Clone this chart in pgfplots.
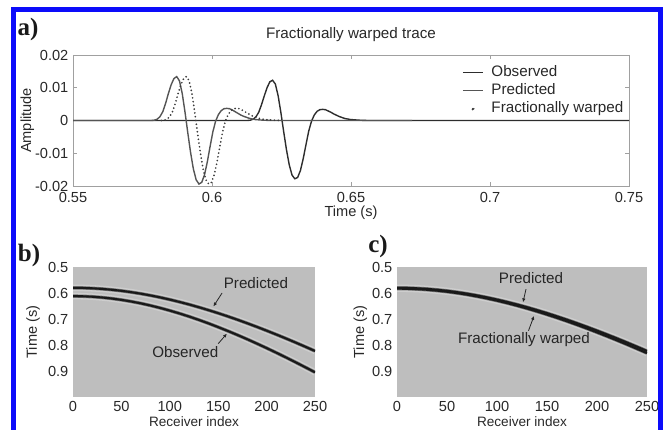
\documentclass[border=0pt]{standalone}
\usepackage{fontspec}
\setmainfont{Liberation Sans}
\newfontfamily\serifbold{Liberation Serif}
\usepackage{pgfplots}
\usepackage{pgfplotstable}
\pgfplotsset{compat=1.18}
\usetikzlibrary{arrows.meta}
\definecolor{bgray}{RGB}{190,190,190}
\definecolor{halo}{RGB}{206,206,206}
\definecolor{bblue}{RGB}{12,12,250}
\definecolor{framegray}{RGB}{160,160,160}
\definecolor{txt}{RGB}{40,40,40}
\definecolor{obscol}{RGB}{45,45,45}
\definecolor{predcol}{RGB}{85,85,85}
\definecolor{warpcol}{RGB}{60,60,60}
\newcommand{\fs}{\fontsize{15.2}{17}\selectfont}
\newcommand{\ft}{\fontsize{14.6}{16.5}\selectfont}
\newcommand{\fl}{\fontsize{13.6}{15}\selectfont}

\pgfplotstableread{
x t
0 0.5800
10 0.5805
20 0.5819
30 0.5842
40 0.5875
50 0.5916
60 0.5967
70 0.6026
80 0.6094
90 0.6169
100 0.6253
110 0.6344
120 0.6442
130 0.6547
140 0.6659
150 0.6776
160 0.6900
170 0.7029
180 0.7164
190 0.7303
200 0.7448
210 0.7596
220 0.7749
230 0.7906
240 0.8067
250 0.8231
}\predev

\pgfplotstableread{
x t
0 0.6120
10 0.6126
20 0.6143
30 0.6172
40 0.6212
50 0.6264
60 0.6326
70 0.6398
80 0.6481
90 0.6574
100 0.6676
110 0.6787
120 0.6906
130 0.7034
140 0.7169
150 0.7312
160 0.7461
170 0.7617
180 0.7778
190 0.7946
200 0.8118
210 0.8296
220 0.8478
230 0.8665
240 0.8856
250 0.9050
}\obsev

\pgfplotstableread{
x t
0 0.5832
10 0.5837
20 0.5851
30 0.5875
40 0.5909
50 0.5951
60 0.6003
70 0.6063
80 0.6133
90 0.6210
100 0.6295
110 0.6388
120 0.6488
130 0.6596
140 0.6710
150 0.6830
160 0.6956
170 0.7088
180 0.7225
190 0.7367
200 0.7515
210 0.7666
220 0.7822
230 0.7982
240 0.8146
250 0.8313
}\warpev

\pgfplotsset{
  mystyle/.style={
    scale only axis, anchor=south west,
    scaled ticks=false,
    axis line style={framegray, line width=0.8pt},
    tick style={framegray, line width=0.8pt},
    major tick length=4pt,
    tick align=inside,
    ticklabel style={font=\ft, text=txt},
    label style={font=\ft, text=txt},
    yticklabel style={anchor=east, xshift=-4.5pt, inner sep=0pt},
  },
  imgstyle/.style={
    mystyle,
    height=130pt,
    xmin=0, xmax=250, ymin=0.5, ymax=1.0, y dir=reverse,
    xtick={0,50,100,150,200,250}, xticklabels={0,50,100,150,200,250},
    ytick={0.5,0.6,0.7,0.8,0.9}, yticklabels={0.5,0.6,0.7,0.8,0.9},
    xticklabel style={anchor=base, yshift=-14.5pt, inner sep=0pt},
    axis background/.style={fill=bgray},
    axis line style={draw=none},
    major tick length=0pt,
    xlabel={Receiver index},
    xlabel style={font=\fl, at={(axis description cs:0.5,0)}, anchor=base, yshift=-29.5pt, inner sep=0pt},
    ylabel={Time (s)},
  },
  halo/.style={no marks, color=halo, line width=6.5pt},
  blur/.style={no marks, color=black!55, line width=3.4pt},
  core/.style={no marks, color=black!90, line width=2.1pt},
}

\begin{document}
\begin{tikzpicture}
\path[use as bounding box] (0pt,0pt) rectangle (668pt,430pt);

% ---------- panel a ----------
\begin{axis}[mystyle, at={(73pt,244pt)}, width=556pt, height=131pt,
  xmin=0.55, xmax=0.75, ymin=-0.02, ymax=0.02,
  xtick={0.55,0.6,0.65,0.7,0.75}, xticklabels={0.55,0.6,0.65,0.7,0.75},
  xticklabel style={anchor=base, yshift=-16.5pt, inner sep=0pt},
  ytick={-0.02,-0.01,0,0.01,0.02}, yticklabels={-0.02,-0.01,0,0.01,0.02},
  title={Fractionally warped trace},
  title style={font=\fs, text=txt, at={(axis description cs:0.5,1)}, anchor=base, yshift=10pt},
  xlabel={Time (s)},
  xlabel style={at={(axis description cs:0.5,0)}, anchor=base, yshift=-31pt},
  ylabel={Amplitude},
  ylabel style={at={(axis description cs:-0.0755,0.5)}, anchor=base},
  legend style={draw=none, fill=none, at={(axis description cs:0.694,0.948)}, anchor=north west,
    font=\fs, text=txt, legend cell align=left, row sep=0.5pt,
    nodes={inner sep=2pt, text height=10.5pt, text depth=3pt},
    /tikz/every odd column/.append style={column sep=6pt}},
  legend image code/.code={\draw[#1] (0pt,0pt) -- (20pt,0pt);},
]
\addplot[no marks, color=obscol, line width=1.4pt] coordinates {
(0.5500,0) (0.6128,0) (0.6138,0.0001) (0.6148,0.0004) (0.6158,0.0011) (0.6168,0.0025)
(0.6178,0.0048) (0.6188,0.0075) (0.6198,0.0100) (0.6208,0.0118) (0.6218,0.0123)
(0.6228,0.0111) (0.6238,0.0075) (0.6248,0.0023) (0.6258,-0.0035) (0.6268,-0.0090)
(0.6278,-0.0136) (0.6288,-0.0167) (0.6298,-0.0178) (0.6308,-0.0174) (0.6318,-0.0153)
(0.6328,-0.0117) (0.6338,-0.0074) (0.6348,-0.0032) (0.6358,-0.0002) (0.6368,0.0017)
(0.6378,0.0028) (0.6388,0.0033) (0.6398,0.0034) (0.6408,0.0033) (0.6418,0.0029)
(0.6428,0.0025) (0.6438,0.0020) (0.6448,0.0016) (0.6458,0.0012) (0.6478,0.0006)
(0.6498,0.0003) (0.6528,0.0001) (0.6558,0) (0.7500,0)
};
\addlegendentry{Observed}
\addplot[no marks, color=predcol, line width=1.4pt] coordinates {
(0.5500,0) (0.5783,0) (0.5793,0.0001) (0.5803,0.0004) (0.5813,0.0012) (0.5823,0.0027)
(0.5833,0.0052) (0.5843,0.0082) (0.5853,0.0109) (0.5863,0.0128) (0.5873,0.0134)
(0.5883,0.0121) (0.5893,0.0082) (0.5903,0.0025) (0.5913,-0.0038) (0.5923,-0.0098)
(0.5933,-0.0148) (0.5943,-0.0181) (0.5953,-0.0194) (0.5963,-0.0189) (0.5973,-0.0166)
(0.5983,-0.0127) (0.5993,-0.0080) (0.6003,-0.0035) (0.6013,-0.0002) (0.6023,0.0018)
(0.6033,0.0030) (0.6043,0.0036) (0.6053,0.0037) (0.6063,0.0036) (0.6073,0.0032)
(0.6083,0.0027) (0.6093,0.0022) (0.6103,0.0017) (0.6113,0.0013) (0.6133,0.0007)
(0.6153,0.0003) (0.6183,0.0001) (0.6213,0) (0.6720,0)
};
\addlegendentry{Predicted}
\addplot[no marks, color=warpcol, line width=1.9pt, line cap=round, dash pattern=on 0pt off 3.8pt,
  legend image code/.code={\fill[warpcol] (10pt,0pt) circle (0.95pt);}] coordinates {
(0.5818,0) (0.5828,0.0001) (0.5838,0.0004) (0.5848,0.0012) (0.5858,0.0027)
(0.5868,0.0052) (0.5878,0.0082) (0.5888,0.0109) (0.5898,0.0128) (0.5908,0.0134)
(0.5918,0.0121) (0.5928,0.0082) (0.5938,0.0025) (0.5948,-0.0038) (0.5958,-0.0098)
(0.5968,-0.0148) (0.5978,-0.0181) (0.5988,-0.0194) (0.5998,-0.0189) (0.6008,-0.0166)
(0.6018,-0.0127) (0.6028,-0.0080) (0.6038,-0.0035) (0.6048,-0.0002) (0.6058,0.0018)
(0.6068,0.0030) (0.6078,0.0036) (0.6088,0.0037) (0.6098,0.0036) (0.6108,0.0032)
(0.6118,0.0027) (0.6128,0.0022) (0.6138,0.0017) (0.6148,0.0013) (0.6168,0.0007)
(0.6188,0.0003) (0.6218,0.0001) (0.6248,0)
};
\addlegendentry{Fractionally  warped}
\end{axis}

% ---------- panel b ----------
\begin{axis}[imgstyle, at={(73pt,33pt)}, width=242pt,
  ylabel style={at={(axis description cs:-0.149,0.5)}, anchor=base}]
\addplot[halo] table[x=x,y=t]{\predev};
\addplot[halo] table[x=x,y=t]{\obsev};
\addplot[blur] table[x=x,y=t]{\predev};
\addplot[blur] table[x=x,y=t]{\obsev};
\addplot[core] table[x=x,y=t]{\predev};
\addplot[core] table[x=x,y=t]{\obsev};
\node[font=\fs, text=black!85] at (axis cs:189,0.562) {Predicted};
\draw[black!85, line width=0.8pt, -{Latex[length=4pt,width=3.5pt]}] (axis cs:154,0.600) -- (axis cs:145,0.652);
\node[font=\fs, text=black!85] at (axis cs:116,0.827) {Observed};
\draw[black!85, line width=0.8pt, -{Latex[length=4pt,width=3.5pt]}] (axis cs:150,0.795) -- (axis cs:159,0.756);
\end{axis}

% ---------- panel c ----------
\begin{axis}[imgstyle, at={(397pt,33pt)}, width=250pt,
  ylabel style={at={(axis description cs:-0.132,0.5)}, anchor=base}]
\addplot[halo] table[x=x,y=t]{\predev};
\addplot[halo] table[x=x,y=t]{\warpev};
\addplot[blur] table[x=x,y=t]{\predev};
\addplot[blur] table[x=x,y=t]{\warpev};
\addplot[core] table[x=x,y=t]{\predev};
\addplot[core] table[x=x,y=t]{\warpev};
\node[font=\fs, text=black!85] at (axis cs:134,0.543) {Predicted};
\draw[black!85, line width=0.8pt, -{Latex[length=4pt,width=3.5pt]}] (axis cs:129,0.585) -- (axis cs:126,0.636);
\node[font=\fs, text=black!85] at (axis cs:127,0.781) {Fractionally  warped};
\draw[black!85, line width=0.8pt, -{Latex[length=4pt,width=3.5pt]}] (axis cs:131.5,0.745) -- (axis cs:137,0.688);
\end{axis}

% panel letters and frame
\node[font=\serifbold\bfseries\fontsize{25}{25}\selectfont, text=black!90] at (28pt,401pt) {a)};
\node[font=\serifbold\bfseries\fontsize{25}{25}\selectfont, text=black!90] at (29pt,175pt) {b)};
\node[font=\serifbold\bfseries\fontsize{25}{25}\selectfont, text=black!90] at (378pt,184pt) {c)};
\draw[bblue, line width=5pt] (13pt,-5pt) -- (13pt,420.5pt) -- (660.5pt,420.5pt) -- (660.5pt,-5pt);
\end{tikzpicture}
\end{document}
